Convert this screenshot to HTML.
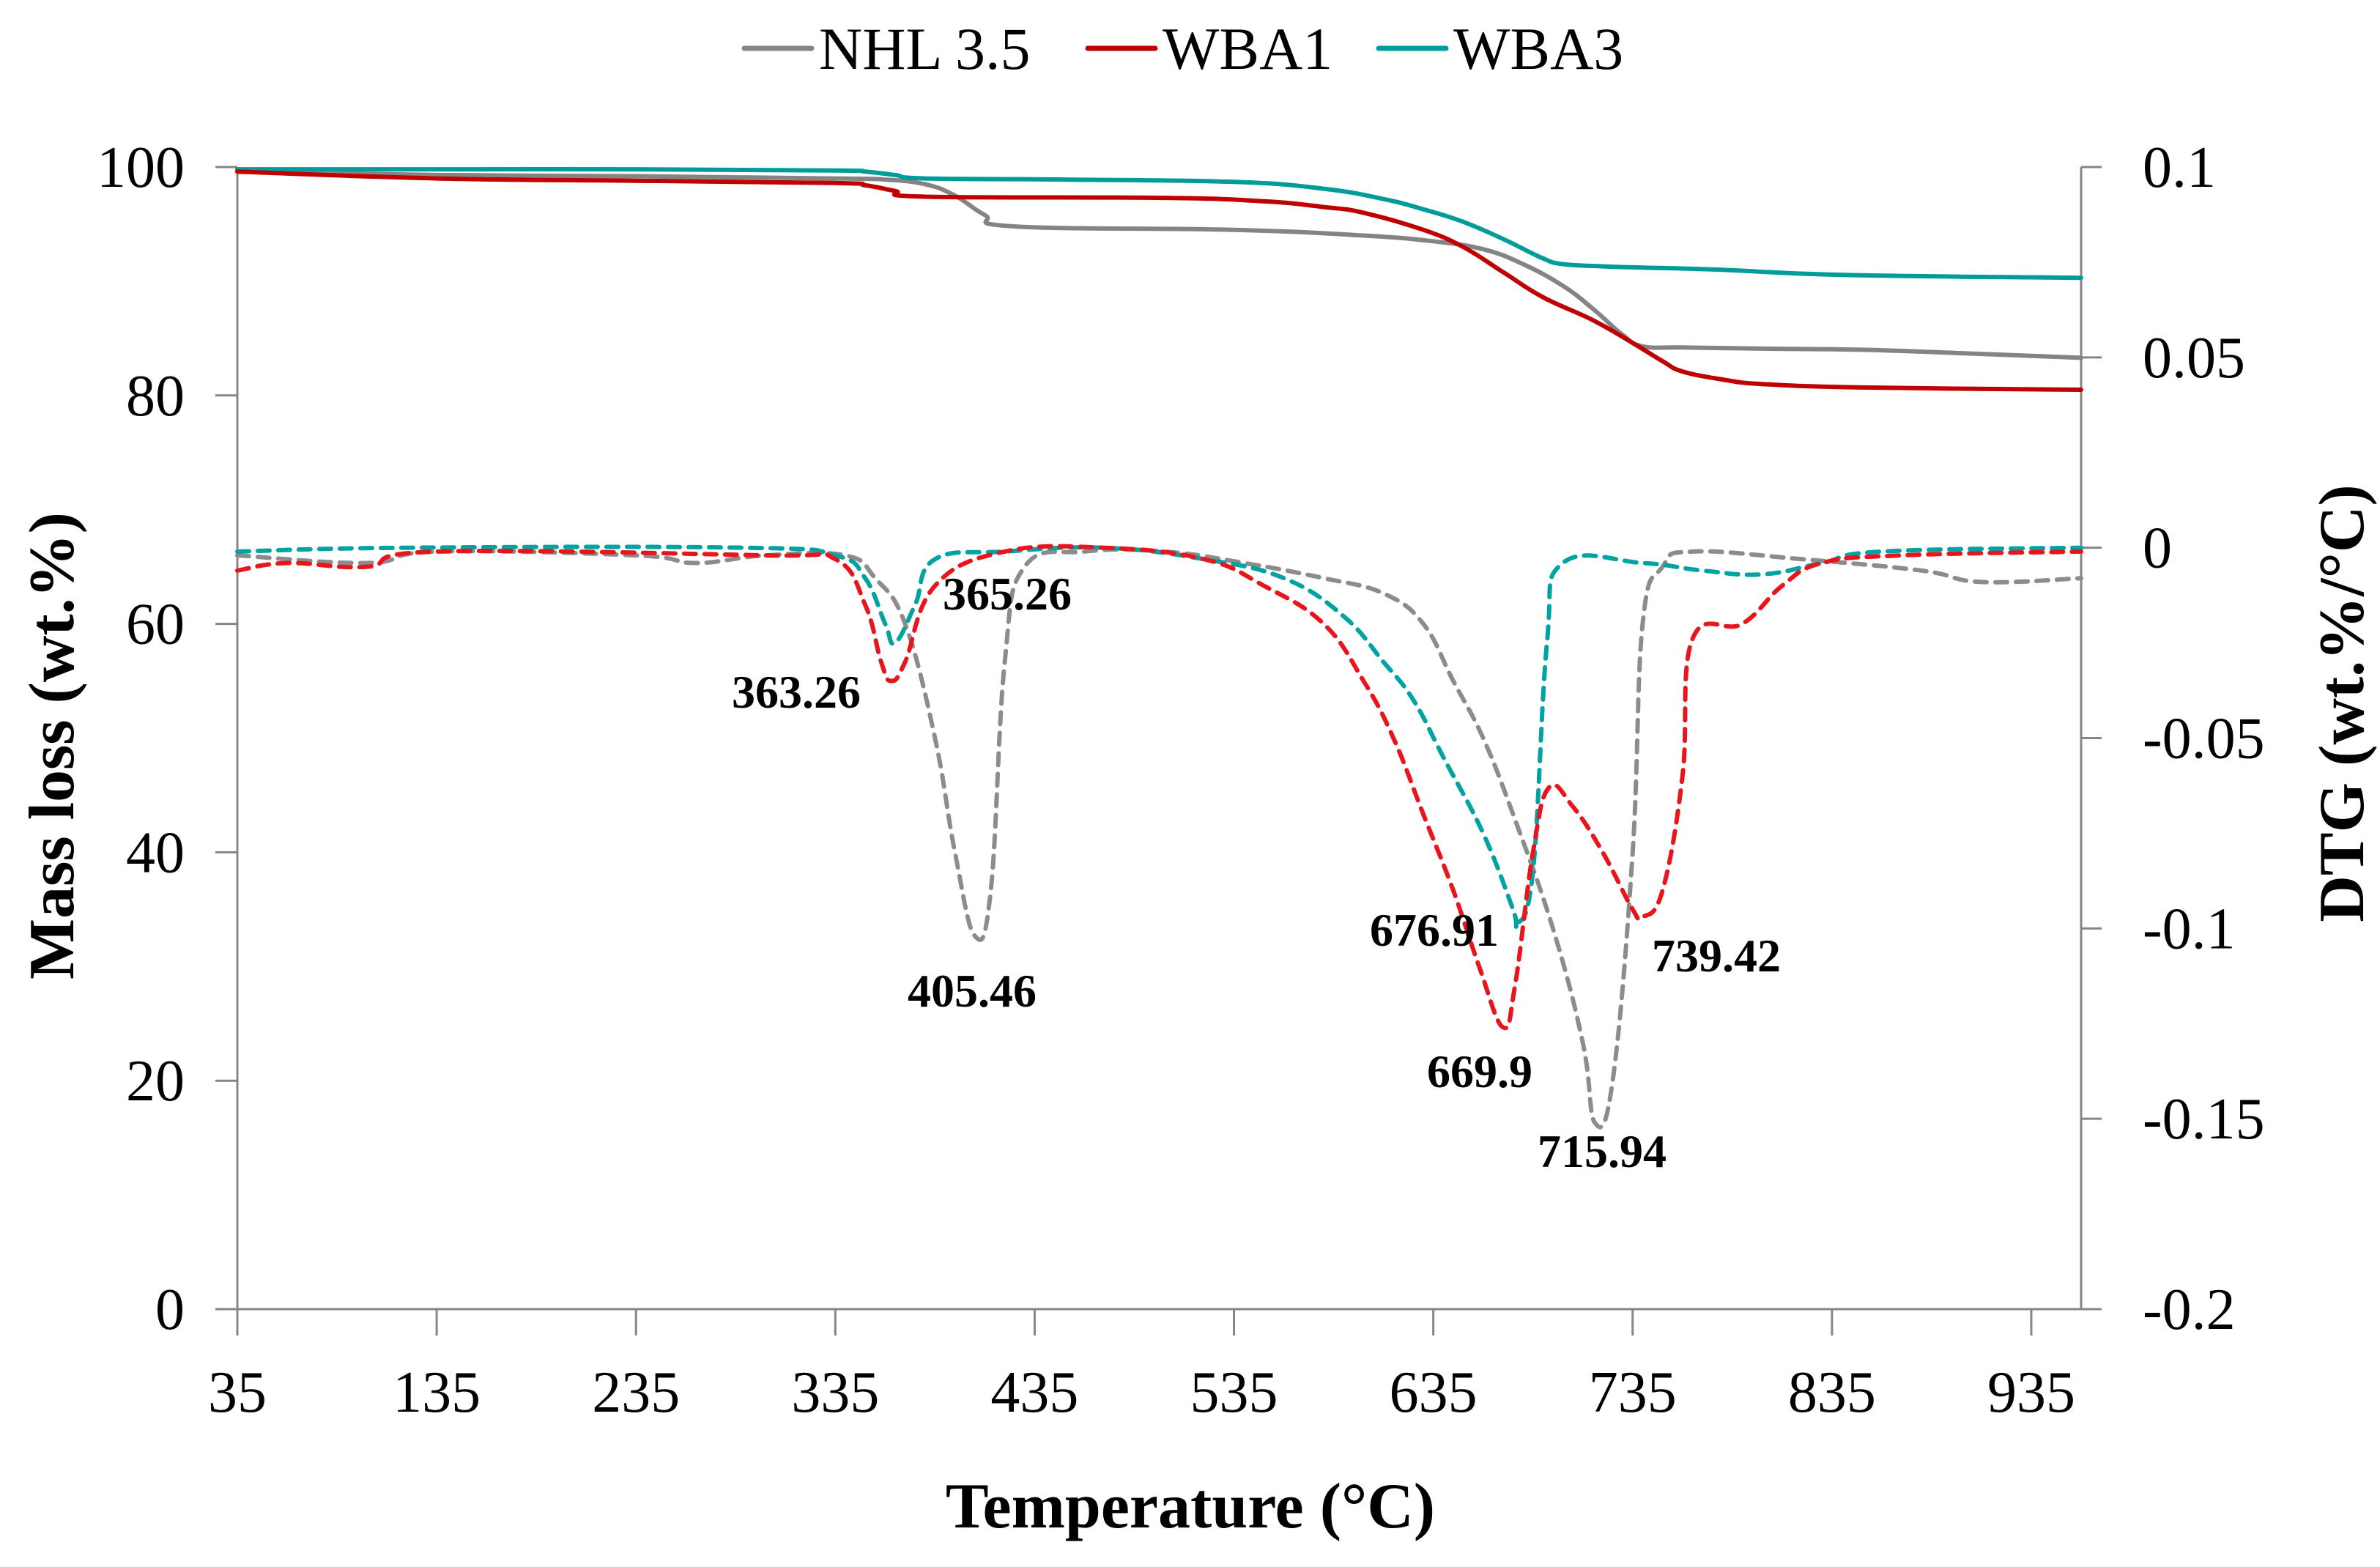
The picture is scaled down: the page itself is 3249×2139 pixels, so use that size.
<!DOCTYPE html>
<html><head><meta charset="utf-8"><style>
html,body{margin:0;padding:0;background:#fff;}
svg{display:block;font-family:"Liberation Serif",serif;}
</style></head><body>
<svg id="chart" width="3249" height="2139" viewBox="0 0 3249 2139" xmlns="http://www.w3.org/2000/svg">
<g id="grid"></g>
<g id="series"></g>
<g id="labels"></g>
</svg>
<script>
// ---- data ----
const nhlMassT = [35,135,235,335,360,380,395,410,425,535,600,635,660,680,700,715,730,740,760,800,850,900,960];
const nhlMass  = [99.6,99.3,99.2,99.0,98.9,98.5,97.5,95.8,94.8,94.5,94.0,93.5,92.8,91.5,89.6,87.6,85.3,84.3,84.2,84.1,84.0,83.7,83.3];
const wba1MassT = [35,135,235,335,350,365,380,500,550,580,600,630,650,670,690,715,735,750,760,780,800,850,960];
const wba1Mass  = [99.6,99.0,98.8,98.6,98.4,97.9,97.4,97.3,97.0,96.5,96.0,94.5,93.0,90.8,88.6,86.6,84.6,83.0,82.1,81.4,81.0,80.7,80.5];
const wba3MassT = [35,135,235,335,350,365,380,450,535,580,610,630,650,670,690,700,720,740,780,830,900,960];
const wba3Mass  = [99.8,99.8,99.8,99.7,99.6,99.3,99.0,98.9,98.7,98.1,97.2,96.3,95.2,93.7,92.0,91.5,91.3,91.2,91.0,90.6,90.4,90.3];

const nhlDtgT = [35,100,135,235,265,300,340,355,370,385,395,405,413,420,430,460,500,540,580,610,630,645,660,675,695,710,716,725,735,740,750,765,820,880,910,960];
const nhlDtg  = [-0.002,-0.004,-0.001,-0.002,-0.004,-0.002,-0.002,-0.008,-0.02,-0.05,-0.08,-0.102,-0.09,-0.03,-0.005,-0.001,-0.001,-0.004,-0.008,-0.012,-0.02,-0.035,-0.05,-0.07,-0.1,-0.13,-0.151,-0.14,-0.08,-0.02,-0.005,-0.001,-0.003,-0.006,-0.009,-0.008];
const wba1DtgT = [35,60,100,135,300,335,350,358,363,370,385,420,470,520,550,580,600,615,630,645,658,670,676,685,693,705,720,735,740,750,760,765,790,810,830,870,960];
const wba1Dtg  = [-0.006,-0.004,-0.005,-0.001,-0.002,-0.003,-0.015,-0.03,-0.035,-0.03,-0.01,-0.001,0,-0.003,-0.01,-0.02,-0.035,-0.05,-0.07,-0.09,-0.11,-0.126,-0.115,-0.08,-0.063,-0.068,-0.08,-0.095,-0.097,-0.09,-0.06,-0.024,-0.02,-0.01,-0.004,-0.002,-0.001];
const wba3DtgT = [35,120,290,335,350,360,365,375,385,420,470,520,560,590,610,625,640,660,675,677,685,692,700,740,770,800,830,860,960];
const wba3Dtg  = [-0.001,0,0,-0.002,-0.008,-0.02,-0.025,-0.015,-0.003,-0.001,0,-0.003,-0.008,-0.018,-0.03,-0.04,-0.055,-0.075,-0.095,-0.099,-0.085,-0.025,-0.004,-0.004,-0.006,-0.007,-0.004,-0.001,0];

const xTicks = [35,135,235,335,435,535,635,735,835,935];
const yTicks = [0,20,40,60,80,100];
const y2Ticks = [-0.2,-0.15,-0.1,-0.05,0,0.05,0.1];
const y2TickLabels = ["-0.2","-0.15","-0.1","-0.05","0","0.05","0.1"];
const peakLabels = ["363.26","365.26","405.46","676.91","669.9","715.94","739.42"];

// ---- geometry ----
const L=324,R=2841,T=228,B=1787;
const xMin=35,xMax=960;
const x=v=>L+(v-xMin)/(xMax-xMin)*(R-L);
const y=v=>B-(v/100)*(B-T);
const y2=v=>B-((v+0.2)/0.3)*(B-T);
const NS="http://www.w3.org/2000/svg";
function mk(tag,attrs,parent,text){const e=document.createElementNS(NS,tag);for(const k in attrs)e.setAttribute(k,attrs[k]);if(text!==undefined)e.textContent=text;parent.appendChild(e);return e;}
const grid=document.getElementById('grid'),series=document.getElementById('series'),labels=document.getElementById('labels');
const ax="#868686";

let e;
e=mk('line',{x1:L,y1:T,x2:L,y2:B,stroke:ax,'stroke-width':3},grid);


e=mk('line',{x1:R,y1:T,x2:R,y2:B,stroke:ax,'stroke-width':3},grid);


e=mk('line',{x1:L,y1:B,x2:R+28,y2:B,stroke:ax,'stroke-width':3},grid);



xTicks.forEach(v=>{
  mk('line',{x1:x(v),y1:B,x2:x(v),y2:B+36,stroke:ax,'stroke-width':3},grid);
  e=mk('text',{x:x(v),y:B+140,'text-anchor':'middle','font-size':80},labels,String(v));
  
  
});
yTicks.forEach(v=>{
  mk('line',{x1:L-30,y1:y(v),x2:L,y2:y(v),stroke:ax,'stroke-width':3},grid);
  e=mk('text',{x:252,y:y(v)+27,'text-anchor':'end','font-size':80},labels,String(v));
  
  
});
y2Ticks.forEach((v,i)=>{
  mk('line',{x1:R,y1:y2(v),x2:R+28,y2:y2(v),stroke:ax,'stroke-width':3},grid);
  e=mk('text',{x:2925,y:y2(v)+27,'text-anchor':'start','font-size':80},labels,y2TickLabels[i]);
  
  
});

function path(xs,ys,fy,color,dash,name){
  const P=xs.map((t,i)=>[x(t),fy(ys[i])]);
  let d='M'+P[0][0].toFixed(1)+','+P[0][1].toFixed(1);
  for(let i=0;i<P.length-1;i++){
    const p0=P[Math.max(i-1,0)],p1=P[i],p2=P[i+1],p3=P[Math.min(i+2,P.length-1)];
    const k=0.2;
    const c1=[p1[0]+(p2[0]-p0[0])*k,p1[1]+(p2[1]-p0[1])*k];
    const c2=[p2[0]-(p3[0]-p1[0])*k,p2[1]-(p3[1]-p1[1])*k];
    d+=' C'+c1[0].toFixed(1)+','+c1[1].toFixed(1)+' '+c2[0].toFixed(1)+','+c2[1].toFixed(1)+' '+p2[0].toFixed(1)+','+p2[1].toFixed(1);
  }
  const a={d:d,fill:'none',stroke:color,'stroke-width':6,'stroke-linejoin':'round','stroke-linecap':'round'};
  if(dash)a['stroke-dasharray']='16 12';
  const p=mk('path',a,series);
  
  
}
path(nhlDtgT,nhlDtg,y2,'#8c8c8c',true,'nhl-dtg-line');
path(wba3DtgT,wba3Dtg,y2,'#00a2a2',true,'wba3-dtg-line');
path(wba1DtgT,wba1Dtg,y2,'#e8161c',true,'wba1-dtg-line');
path(nhlMassT,nhlMass,y,'#848484',false,'nhl-mass-line');
path(wba3MassT,wba3Mass,y,'#009c9c',false,'wba3-mass-line');
path(wba1MassT,wba1Mass,y,'#c00000',false,'wba1-mass-line');

const peakPos=[[1087,966],[1375,832],[1327,1374],[1958,1291],[2020,1484],[2187,1593],[2343,1326]];
peakLabels.forEach((s,i)=>{
  e=mk('text',{x:peakPos[i][0],y:peakPos[i][1],'text-anchor':'middle','font-size':64,'font-weight':'bold'},labels,s);
  
  
});

e=mk('text',{x:1625,y:2085,'text-anchor':'middle','font-size':88,'font-weight':'bold'},labels,'Temperature (°C)');


e=mk('text',{x:0,y:0,'text-anchor':'middle','font-size':88,'font-weight':'bold',transform:'translate(100,1018) rotate(-90)'},labels,'Mass loss (wt.%)');


e=mk('text',{x:0,y:0,'text-anchor':'middle','font-size':88,'font-weight':'bold',transform:'translate(3226,960) rotate(-90)'},labels,'DTG (wt.%/°C)');



const leg=[['NHL 3.5','#848484',1016],['WBA1','#c00000',1485],['WBA3','#009c9c',1882]];
leg.forEach(l=>{
  const g=mk('g',{},labels);
  
  
  mk('line',{x1:l[2],y1:66,x2:l[2]+92,y2:66,stroke:l[1],'stroke-width':7,'stroke-linecap':'round'},g);
  mk('text',{x:l[2]+102,y:94,'font-size':82},g,l[0]);
});
</script>
</body></html>
